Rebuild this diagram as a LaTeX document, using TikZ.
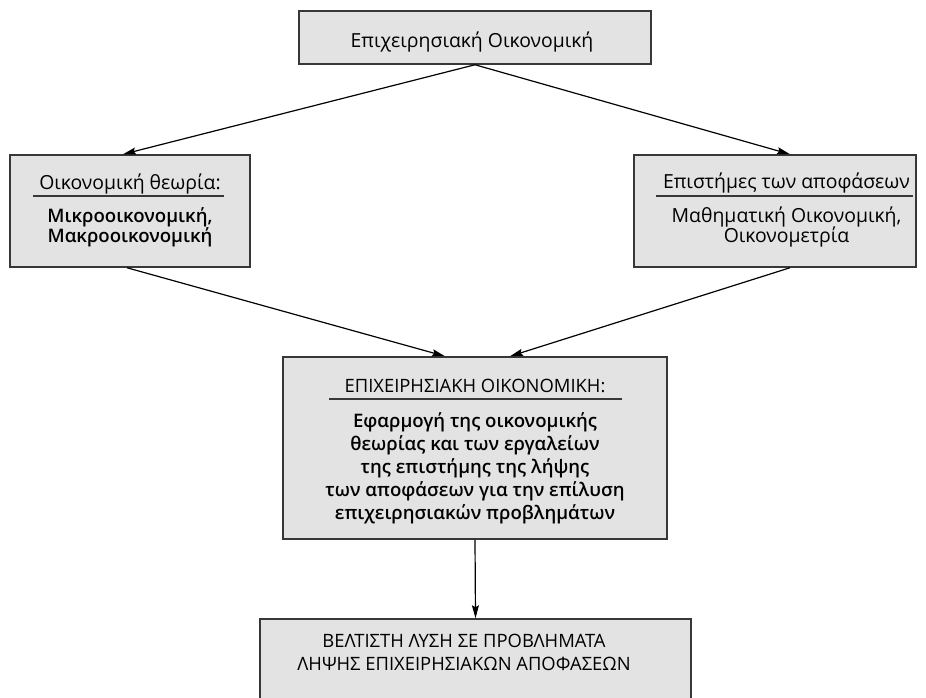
\documentclass[tikz,border=0pt]{standalone}
\usepackage{fontspec}
\setmainfont{Open Sans}
\IfFontExistsTF{Open Sans Medium}
  {\newfontfamily\medf{Open Sans Medium}}
  {\IfFontExistsTF{Noto Sans Medium}
     {\newfontfamily\medf{Noto Sans Medium}}
     {\newfontfamily\medf{Open Sans}}}
\IfFontExistsTF{Open Sans SemiBold}
  {\newfontfamily\semf{Open Sans SemiBold}}
  {\IfFontExistsTF{Open Sans Semibold}
     {\newfontfamily\semf{Open Sans Semibold}}
     {\newfontfamily\semf{Open Sans}[UprightFont={* Bold}]}}
\usetikzlibrary{arrows.meta}
\definecolor{boxfill}{HTML}{E3E3E3}
\definecolor{boxline}{HTML}{383838}
\begin{document}
\begin{tikzpicture}[x=1pt,y=-1pt,
  box/.style={draw=boxline,line width=1.5pt,fill=boxfill,inner sep=0pt,rectangle},
  txt/.style={inner sep=0pt,anchor=base,font=\medf\fontsize{19.4}{20}\selectfont},
  ctxt/.style={txt,font=\medf\fontsize{18.4}{20}\selectfont},
  btxt/.style={txt,font=\semf\fontsize{18.6}{20}\selectfont},
  hrule/.style={draw=boxline,line width=1.4pt},
  arr/.style={draw=black,line width=1.2pt,-{Stealth[length=13pt,width=7pt,inset=2pt]}}]
\useasboundingbox (0,0) rectangle (926,697);
\clip (0,0) rectangle (926,697);
% boxes
\node[box,minimum width=352pt,minimum height=53pt] (top) at (475,37.5) {};
\node[box,minimum width=240pt,minimum height=112pt] (left) at (130,211) {};
\node[box,minimum width=282pt,minimum height=112pt] (right) at (775,211) {};
\node[box,minimum width=384pt,minimum height=182pt] (mid) at (475,448) {};
\node[box,minimum width=431pt,minimum height=110pt] (bot) at (475.5,674) {};
% top text
\node[txt] (topt) at (472,47) {Επιχειρησιακή Οικονομική};
% left text
\node[txt] (lh) at (130,189) {Οικονομική θεωρία:};
\coordinate (lra) at (33,196); \coordinate (lrb) at (224,196);
\draw[hrule] (lra) -- (lrb);
\node[btxt] (l1) at (130,222) {Μικροοικονομική,};
\node[btxt] (l2) at (130,242) {Μακροοικονομική};
% right text
\node[txt] (rh) at (786.5,188) {Επιστήμες των αποφάσεων};
\coordinate (rra) at (656,196); \coordinate (rrb) at (913,196);
\draw[hrule] (rra) -- (rrb);
\node[txt] (r1) at (786.5,222) {Μαθηματική Οικονομική,};
\node[txt] (r2) at (786.5,242) {Οικονομετρία};
% middle text
\node[ctxt] (mh) at (475,392) {ΕΠΙΧΕΙΡΗΣΙΑΚΗ ΟΙΚΟΝΟΜΙΚΗ:};
\coordinate (mra) at (329,399); \coordinate (mrb) at (622,399);
\draw[hrule] (mra) -- (mrb);
\node[btxt] (m1) at (475,427) {Εφαρμογή της οικονομικής};
\node[btxt] (m2) at (475,450) {θεωρίας και των εργαλείων};
\node[btxt] (m3) at (475,473) {της επιστήμης της λήψης};
\node[btxt] (m4) at (475,496) {των αποφάσεων για την επίλυση};
\node[btxt] (m5) at (475,519) {επιχειρησιακών προβλημάτων};
% bottom text
\node[ctxt] (b1) at (464,647) {ΒΕΛΤΙΣΤΗ ΛΥΣΗ ΣΕ ΠΡΟΒΛΗΜΑΤΑ};
\node[ctxt] (b2) at (464,670) {ΛΗΨΗΣ ΕΠΙΧΕΙΡΗΣΙΑΚΩΝ ΑΠΟΦΑΣΕΩΝ};
% connectors
\draw[arr] (top.south) -- ([xshift=-7pt]left.north);
\draw[arr] (top.south) -- ([xshift=15pt]right.north);
\draw[arr] ([xshift=-3pt]left.south) -- ([xshift=-30pt]mid.north);
\draw[arr] ([xshift=15pt]right.south) -- ([xshift=35pt]mid.north);
\draw[arr] (mid.south) -- (bot.north);
\end{tikzpicture}
\end{document}
